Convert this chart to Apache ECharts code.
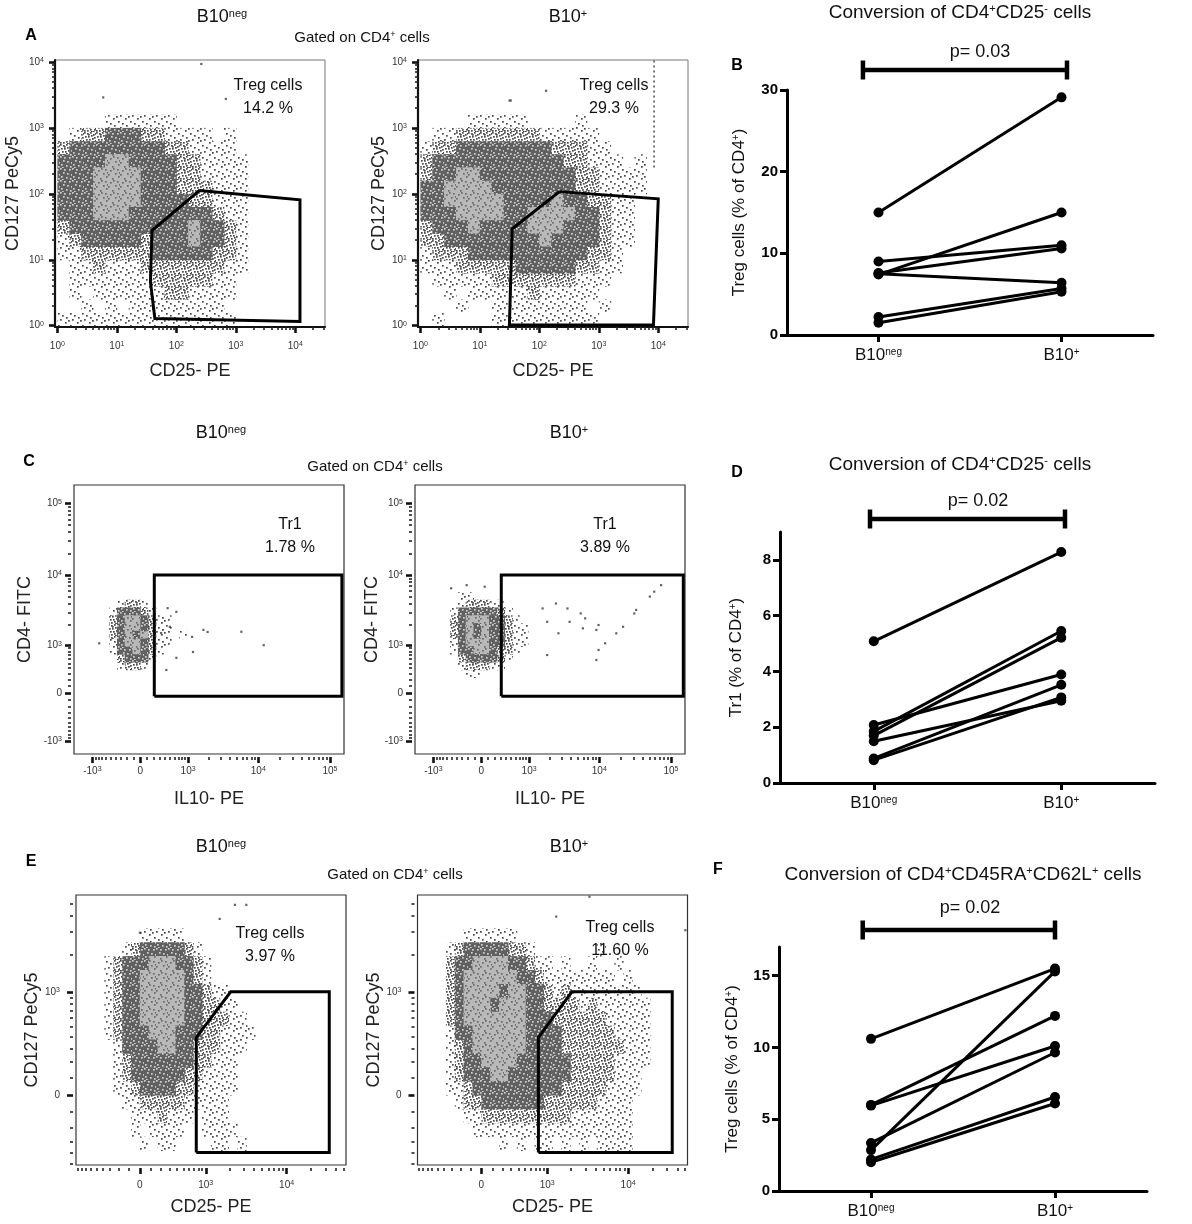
<!DOCTYPE html>
<html>
<head>
<meta charset="utf-8">
<title>B10 cells conversion</title>
<script src="https://cdn.jsdelivr.net/npm/echarts@6.0.0/dist/echarts.min.js"></script>
<style>
html,body{margin:0;padding:0;background:#ffffff;}
#chart{width:1192px;height:1224px;}
</style>
</head>
<body>
<div id="chart"></div>
<script>
// ================= DATA =================
const categories = ['B10neg', 'B10+'];

// Panel B: Treg cells (% of CD4+), conversion of CD4+CD25- cells, paired donors
const panelB_neg = [15.0, 7.4, 9.0, 7.6, 7.5, 2.2, 1.5];
const panelB_pos = [29.1, 15.0, 11.0, 10.6, 6.4, 5.7, 5.3];
// Panel D: Tr1 (% of CD4+)
const panelD_neg = [5.08, 2.08, 1.85, 1.70, 1.50, 0.88, 0.82];
const panelD_pos = [8.28, 3.89, 5.45, 5.21, 2.95, 3.52, 3.07];
// Panel F: Treg cells (% of CD4+), conversion of CD4+CD45RA+CD62L+ cells
const panelF_neg = [10.6, 6.0, 5.95, 2.85, 3.35, 2.2, 2.0];
const panelF_pos = [15.5, 12.2, 10.1, 15.3, 9.65, 6.55, 6.1];

const yTicksB = [0, 10, 20, 30];
const yTicksD = [0, 2, 4, 6, 8];
const yTicksF = [0, 5, 10, 15];
const pLabels = ['p= 0.03', 'p= 0.02', 'p= 0.02'];
// significance bar extent on the category scale (0 = B10neg, 1 = B10+)
const pBarB = [-0.085, 1.03];
const pBarD = [-0.02, 1.02];
const pBarF = [-0.045, 1.0];

// ---- Flow plots: density maps
// levels: 0 none, 1 sparse events, 2 moderate, 3 dense (dark), 4 densest (light core)
// Panel A (log10 display units), cells 0.2 decade, first column at 10^0, top row ends at 10^4
const cellsA = { x0: 0, dx: 0.2, yTop: 4.0, dy: 0.2 };
const densityA_neg = [
  "0000000000000000000000",
  "0000000000000000000000",
  "0000000000000000000000",
  "0000000000000000000000",
  "0000111111000000000000",
  "0122333221111010000000",
  "2333333332211110000000",
  "3333443333221111000000",
  "3334444333221111000000",
  "3334444333222111000000",
  "3334444333322111000000",
  "3334443333333211000000",
  "2333333333343321000000",
  "1233333233343321000000",
  "1122222233333221000000",
  "0112111222222211000000",
  "0111111122222110000000",
  "0101111112211110000000",
  "0010101111111100000000",
  "1111111111111110000000"
];
const densityA_pos = [
  "0000000000000000000000",
  "0000000000000000000000",
  "0000000000000000000000",
  "0000000000000000000000",
  "0000111110000100000000",
  "0112222222111110000000",
  "1223333333322211000000",
  "2333333333332211101000",
  "2334433333333221111000",
  "3344443333333221111000",
  "3344444333343322110000",
  "3334444334444332110000",
  "2333433334443332110000",
  "2233333333433332110000",
  "1222333333333322100000",
  "1112222233333221100000",
  "0111112222222111000000",
  "0010111112111110000000",
  "0001001111111101000000",
  "0100001111111110000000"
];
// gates (CD25, CD127 fluorescence)
const gateA_neg = [[243, 112], [12000, 81], [12000, 1.16], [43.6, 1.28], [36.7, 4.6], [39, 27.8]];
const gateA_pos = [[218, 108], [10000, 84], [8300, 1.02], [31.4, 1.02], [35, 29.5]];
const eventsA_neg = [[263, 9330], [5.9, 2900], [680, 2750]];
const eventsA_pos = [[31.6, 2600], [130, 3650], [33, 2600]];
const saturatedA_pos = [[8500, 250], [8500, 10700]];
const gateTextA = [['Treg cells', '14.2 %'], ['Treg cells', '29.3 %']];

// Panel C (biexponential display units asinh(v/450)), cells 0.25
const cellsC = { x0: -1.0, dx: 0.25, yTop: 3.25, dy: 0.25 };
const densityC_neg = [
  "000000000000",
  "012210000000",
  "133321000000",
  "234432110000",
  "234432110000",
  "234342110100",
  "134432110000",
  "133432100000",
  "023331000000",
  "012210000000",
  "000000000000"
];
const densityC_pos = [
  "011000000000",
  "012221100000",
  "133333210000",
  "234443321000",
  "234343321100",
  "234343321100",
  "134443321100",
  "133443221000",
  "023333210000",
  "012221100000",
  "001100000000"
];
const gateC_neg = [[210, -45], [210, 10000], [147000, 10000], [147000, -45]];
const gateC_pos = [[310, -45], [310, 10000], [149000, 10000], [149000, -45]];
const eventsC_neg = [[-782, 1069], [449, 3435], [648, 3047], [495, 1867], [1148, 1333], [1683, 1683],
  [1935, 1570], [5790, 1584], [11900, 1000], [1184, 783], [648, 625], [423, 365], [324, 1517]];
const eventsC_pos = [[-508, 6525], [-219, 7222], [50, 6870], [1585, 3400], [2462, 3996], [3578, 3400],
  [5500, 2893], [6345, 2462], [1845, 2200], [2670, 1503], [3840, 2200], [5890, 1773], [9100, 1683],
  [9760, 1980], [12060, 1069], [9760, 843], [9100, 573], [1845, 698], [17280, 1503], [21500, 1868],
  [30800, 2893], [32700, 3240], [50800, 4995], [58500, 5850], [72900, 7222]];
const gateTextC = [['Tr1', '1.78 %'], ['Tr1', '3.89 %']];

// Panel E (biexponential display units asinh(v/320)), cells 0.25
const cellsE = { x0: -1.0, dx: 0.25, yTop: 3.5, dy: 0.25 };
const densityE_neg = [
  "00000000000000000000",
  "00000000000000000000",
  "00001111100000000000",
  "00123333321000000000",
  "12333444332100000000",
  "12334444432100000000",
  "12334444433211000000",
  "12334444433221100000",
  "12334444433222110000",
  "12333444333221111000",
  "01333344332221110000",
  "01233333332211100000",
  "01233333322111100000",
  "01123333221111100000",
  "00112222211111000000",
  "00011121110111000000",
  "00010111100111100000",
  "00001011000011010000",
  "00000000000000000000"
];
const densityE_pos = [
  "000000000000000000000000",
  "000000000000000000000000",
  "001111110000000000000000",
  "123333322100000001000000",
  "233444433211010010010000",
  "234444443321111111101000",
  "234444344332121111111100",
  "234443444332222121111110",
  "234444444333222222111110",
  "133444444333322222211110",
  "123444444333322222221110",
  "123344443333332222211110",
  "123334433333332222211100",
  "112333333333322222111100",
  "012233333332222221111000",
  "001122222222221111111000",
  "000111111111111111111000",
  "000000101011010101111000",
  "000000000000000000000000"
];
const gateE_neg = [[752, -394], [752, 394], [2058, 1000], [33300, 1000], [33300, -394]];
const gateE_pos = [[767, -394], [767, 394], [2040, 1000], [34700, 1000], [34700, -394]];
const eventsE_neg = [[2323, 4900], [3205, 4900], [1500, 3800], [0, 2960]];
const eventsE_pos = [[3360, 5670], [1300, 3960], [50300, 3100]];
const gateTextE = [['Treg cells', '3.97 %'], ['Treg cells', '11.60 %']];

// ================= RENDERING =================
const FONT = '"Liberation Sans", Arial, Helvetica, sans-serif';

// dotted textures for the density levels (pure styling)
function makeTile(bg, dotColor, dots) {
  const size = 12;
  const c = document.createElement('canvas');
  c.width = size; c.height = size;
  const g = c.getContext('2d');
  if (bg) { g.fillStyle = bg; g.fillRect(0, 0, size, size); }
  g.fillStyle = dotColor;
  dots.forEach(d => g.fillRect(d[0], d[1], 1.7, 1.7));
  return { type: 'pattern', image: c, repeat: 'repeat' };
}
const LEVEL_FILLS = [
  null,
  makeTile(null, '#4a4a4a', [[2, 3], [8, 8], [10, 1], [5, 10], [0, 7], [6, 5]]),
  makeTile(null, '#4a4a4a', [[0, 0], [3, 1], [6, 0], [9, 2], [1, 4], [4, 4], [7, 3], [10, 5], [2, 7], [5, 7],
    [8, 6], [11, 8], [0, 10], [3, 10], [6, 9], [9, 11], [11, 1], [7, 11], [4, 2], [10, 9]]),
  makeTile('#606060', '#cfcfcf', [[3, 4], [9, 1], [6, 9], [0, 0], [10, 10], [1, 8], [7, 5], [4, 1], [11, 6], [2, 11]]),
  makeTile('#b8b8b8', '#6b6b6b', [[2, 2], [7, 5], [4, 10], [10, 8], [9, 1], [0, 6], [5, 0], [11, 4]])
];

const TF = {
  log: v => Math.log10(v),
  biexC: v => Math.asinh(v / 450),
  biexE: v => Math.asinh(v / 320)
};
function logMinors(d0, d1) {
  const o = [];
  for (let d = d0; d <= d1; d++) for (let k = 2; k <= 9; k++) o.push(k * Math.pow(10, d));
  return o;
}
function linMinors(n) {
  const o = [];
  for (let k = 1; k <= n; k++) { o.push(k * 100); o.push(-k * 100); }
  return o;
}
function supLabel(v) {
  if (v === 0) return '{b|0}';
  const e = Math.round(Math.log10(Math.abs(v)));
  return (v < 0 ? '{b|-10}' : '{b|10}') + '{s|' + e + '}';
}
function cellsFrom(spec, rows) {
  const out = [];
  rows.forEach((row, k) => {
    for (let c = 0; c < row.length; c++) {
      const lv = +row[c];
      if (lv > 0) {
        const x0 = spec.x0 + c * spec.dx;
        const yt = spec.yTop - k * spec.dy;
        out.push([x0, yt - spec.dy, x0 + spec.dx, yt, lv]);
      }
    }
  });
  return out;
}
function renderCell(params, api) {
  const a = api.coord([api.value(0), api.value(3)]);
  const b = api.coord([api.value(2), api.value(1)]);
  const cs = params.coordSys;
  const r = echarts.graphic.clipRectByRect(
    { x: a[0], y: a[1], width: b[0] - a[0] + 0.5, height: b[1] - a[1] + 0.5 },
    { x: cs.x, y: cs.y, width: cs.width, height: cs.height });
  if (!r) return null;
  return { type: 'rect', shape: r, style: { fill: LEVEL_FILLS[api.value(4)] } };
}

const grids = [], xAxes = [], yAxes = [], series = [], graphics = [];
const tickRich = {
  b: { fontSize: 10, fontFamily: FONT, color: '#333' },
  s: { fontSize: 7, fontFamily: FONT, color: '#333', verticalAlign: 'top' }
};

function buildFlow(p) {
  const T = TF[p.tf];
  const inR = r => v => v >= r[0] - 1e-9 && v <= r[1] + 1e-9;
  const gi = grids.length;
  grids.push({ left: p.box[0], top: p.box[1], width: p.box[2], height: p.box[3], show: true,
    borderColor: p.frameColor, borderWidth: p.frameWidth, backgroundColor: 'rgba(0,0,0,0)',
    containLabel: false, outerBoundsMode: 'none' });
  const labelFor = majors => val => {
    const m = majors.find(o => Math.abs(T(o) - val) < 1e-6);
    return m === undefined ? '' : supLabel(m);
  };
  const xMaj = p.xMajor.map(T).filter(inR(p.xr));
  const xMin = p.xMinor.map(T).filter(inR(p.xr));
  const yMaj = p.yMajor.map(T).filter(inR(p.yr));
  const yMin = p.yMinor.map(T).filter(inR(p.yr));
  const axisLine = { show: p.solid, onZero: false, lineStyle: { color: '#111', width: 2.2 } };
  const xi = xAxes.length;
  xAxes.push({ gridIndex: gi, type: 'value', min: p.xr[0], max: p.xr[1], position: 'bottom', offset: p.tickOffset,
    name: p.xName, nameLocation: 'middle', nameGap: p.xNameGap,
    nameTextStyle: { fontSize: 18, fontFamily: FONT, color: '#222' },
    axisLine: axisLine,
    axisTick: { show: true, length: 6, lineStyle: { color: '#111', width: 2.6 }, customValues: xMaj },
    axisLabel: { show: true, customValues: xMaj, margin: p.xLabelMargin, formatter: labelFor(p.xMajor), rich: tickRich },
    splitLine: { show: false } });
  xAxes.push({ gridIndex: gi, type: 'value', min: p.xr[0], max: p.xr[1], position: 'bottom', offset: p.tickOffset,
    axisLine: { show: false, onZero: false },
    axisTick: { show: true, length: 3, lineStyle: { color: '#222', width: 1.6 }, customValues: xMin },
    axisLabel: { show: false }, splitLine: { show: false } });
  const yi = yAxes.length;
  yAxes.push({ gridIndex: gi, type: 'value', min: p.yr[0], max: p.yr[1], position: 'left', offset: p.tickOffset,
    name: p.yName, nameLocation: 'middle', nameGap: p.yNameGap,
    nameTextStyle: { fontSize: 18, fontFamily: FONT, color: '#222' },
    axisLine: axisLine,
    axisTick: { show: true, length: 6, lineStyle: { color: '#111', width: 2.6 }, customValues: yMaj },
    axisLabel: { show: true, customValues: yMaj, margin: p.yLabelMargin, formatter: labelFor(p.yMajor), rich: tickRich },
    splitLine: { show: false } });
  yAxes.push({ gridIndex: gi, type: 'value', min: p.yr[0], max: p.yr[1], position: 'left', offset: p.tickOffset,
    axisLine: { show: false, onZero: false },
    axisTick: { show: true, length: 3, lineStyle: { color: '#222', width: 1.6 }, customValues: yMin },
    axisLabel: { show: false }, splitLine: { show: false } });

  series.push({ type: 'custom', xAxisIndex: xi, yAxisIndex: yi, data: cellsFrom(p.cells, p.density),
    renderItem: renderCell, encode: { x: [0, 2], y: [1, 3] }, z: 1, silent: true });
  series.push({ type: 'scatter', xAxisIndex: xi, yAxisIndex: yi, data: p.events.map(e => [T(e[0]), T(e[1])]),
    symbol: 'rect', symbolSize: 2.2, itemStyle: { color: '#3c3c3c' }, z: 2, silent: true });
  if (p.saturated) {
    series.push({ type: 'line', xAxisIndex: xi, yAxisIndex: yi, data: p.saturated.map(e => [T(e[0]), T(e[1])]),
      symbol: 'none', lineStyle: { color: '#555', width: 1.6, type: [2, 3] }, z: 2, silent: true, clip: true });
  }
  const g = p.gate.concat([p.gate[0]]).map(e => [T(e[0]), T(e[1])]);
  series.push({ type: 'line', xAxisIndex: xi, yAxisIndex: yi, data: g, symbol: 'none',
    lineStyle: { color: '#000', width: 3, join: 'miter' }, z: 3, silent: true, clip: false });
  graphics.push(txt(p.textPos[0], p.textPos[1], '{f16|' + p.gateText[0] + '}'));
  graphics.push(txt(p.textPos[0], p.textPos[1] + 23, '{f16|' + p.gateText[1] + '}'));
}

function buildPaired(p) {
  const gi = grids.length;
  grids.push({ left: p.box[0], top: p.box[1], width: p.box[2], height: p.box[3], containLabel: false, outerBoundsMode: 'none' });
  const xi = xAxes.length;
  xAxes.push({ gridIndex: gi, type: 'category', data: categories, boundaryGap: true,
    axisLine: { show: true, onZero: false, lineStyle: { color: '#000', width: 3 } },
    axisTick: { show: true, alignWithLabel: true, length: 7, lineStyle: { color: '#000', width: 3 } },
    axisLabel: { margin: 12, formatter: v => v === 'B10neg' ? '{m|B10}{s|neg}' : '{m|B10}{s|+}',
      rich: { m: { fontSize: 17, fontFamily: FONT, color: '#111' },
              s: { fontSize: 10, fontFamily: FONT, color: '#111', verticalAlign: 'top' } } },
    splitLine: { show: false } });
  const yi = yAxes.length;
  yAxes.push({ gridIndex: gi, type: 'value', min: 0, max: p.yMax,
    axisLine: { show: true, onZero: false, lineStyle: { color: '#000', width: 3 } },
    axisTick: { show: true, length: 7, lineStyle: { color: '#000', width: 3 }, customValues: p.yTicks },
    axisLabel: { customValues: p.yTicks, fontSize: 15, fontWeight: 'bold', fontFamily: FONT, color: '#000', margin: 9 },
    splitLine: { show: false },
    name: p.yName, nameLocation: 'middle', nameGap: p.yNameGap,
    nameTextStyle: { fontSize: 17, fontFamily: FONT, color: '#111',
      rich: { s: { fontSize: 10, fontFamily: FONT, color: '#111', verticalAlign: 'top' } } } });
  p.neg.forEach((v, i) => {
    series.push({ type: 'line', xAxisIndex: xi, yAxisIndex: yi, data: [v, p.pos[i]],
      symbol: 'circle', symbolSize: 10, lineStyle: { color: '#000', width: 3 }, itemStyle: { color: '#000' },
      z: 5, silent: true, clip: false });
  });
  // significance bar
  const gp = grids.length;
  grids.push({ left: p.box[0], top: p.pbarY - 20, width: p.box[2], height: 40, containLabel: false, outerBoundsMode: 'none' });
  const xp = xAxes.length;
  xAxes.push({ gridIndex: gp, type: 'value', min: -0.5, max: 1.5, show: false });
  const yp = yAxes.length;
  yAxes.push({ gridIndex: gp, type: 'value', min: 0, max: 1, show: false });
  series.push({ type: 'line', xAxisIndex: xp, yAxisIndex: yp, data: [[p.pbar[0], 0.5], [p.pbar[1], 0.5]],
    symbol: 'rect', symbolSize: [4.5, 19], lineStyle: { color: '#000', width: 4.5 }, itemStyle: { color: '#000' },
    z: 5, silent: true, clip: false });
  graphics.push(txt(p.pTextPos[0], p.pTextPos[1], '{t18|' + p.pText + '}'));
}

const textRich = {
  t15: { fontSize: 15, fontFamily: FONT, fill: '#111', color: '#111' },
  s15: { fontSize: 9, fontFamily: FONT, fill: '#111', color: '#111', verticalAlign: 'top' },
  t18: { fontSize: 18, fontFamily: FONT, fill: '#111', color: '#111' },
  s18: { fontSize: 11, fontFamily: FONT, fill: '#111', color: '#111', verticalAlign: 'top' },
  t19: { fontSize: 19, fontFamily: FONT, fill: '#111', color: '#111' },
  s19: { fontSize: 11, fontFamily: FONT, fill: '#111', color: '#111', verticalAlign: 'top' },
  f16: { fontSize: 16, fontFamily: FONT, fill: '#111', color: '#111' },
  L: { fontSize: 16, fontFamily: FONT, fontWeight: 'bold', fill: '#000', color: '#000' }
};
function txt(x, y, t) {
  return { type: 'text', x: x, y: y, z: 100, zlevel: 0, silent: true,
    style: { text: t, rich: textRich, align: 'center', verticalAlign: 'middle',
             textAlign: 'center', textVerticalAlign: 'middle', fontFamily: FONT, fontSize: 16, fill: '#111' } };
}

// ---- flow panels
const minorsLog = logMinors(0, 4);
const minorsC = linMinors(9).concat(logMinors(3, 4));
const minorsE = linMinors(9).concat(logMinors(3, 4));
const flowCommonA = { tf: 'log', xr: [-0.04, 4.5], yr: [-0.02, 4.03],
  xMajor: [1, 10, 100, 1000, 10000], yMajor: [1, 10, 100, 1000, 10000], xMinor: minorsLog, yMinor: minorsLog,
  xName: 'CD25- PE', yName: 'CD127 PeCy5', xNameGap: 35, solid: true, tickOffset: 0,
  xLabelMargin: 14, yLabelMargin: 11, frameColor: '#777', frameWidth: 1, cells: cellsA };
buildFlow(Object.assign({}, flowCommonA, { box: [55, 60, 270, 267], yNameGap: 33, density: densityA_neg, gate: gateA_neg,
  events: eventsA_neg, gateText: gateTextA[0], textPos: [268, 86] }));
buildFlow(Object.assign({}, flowCommonA, { box: [418, 60, 270, 267], yNameGap: 28, density: densityA_pos, gate: gateA_pos,
  events: eventsA_pos, saturated: saturatedA_pos, gateText: gateTextA[1], textPos: [614, 86] }));

const flowCommonC = { tf: 'biexC', xr: [-2.13, 6.55], yr: [-1.96, 6.69],
  xMajor: [-1000, 0, 1000, 10000, 100000], yMajor: [-1000, 0, 1000, 10000, 100000], xMinor: minorsC, yMinor: minorsC,
  xName: 'IL10- PE', yName: 'CD4- FITC', xNameGap: 33, solid: false, tickOffset: 3,
  xLabelMargin: 9, yLabelMargin: 9, frameColor: '#333', frameWidth: 1.2, cells: cellsC };
buildFlow(Object.assign({}, flowCommonC, { box: [74, 485, 270, 269], yNameGap: 37, density: densityC_neg,
  gate: gateC_neg, events: eventsC_neg, gateText: gateTextC[0], textPos: [290, 525] }));
buildFlow(Object.assign({}, flowCommonC, { box: [415, 485, 270, 269], yNameGap: 29, density: densityC_pos,
  gate: gateC_pos, events: eventsC_pos, gateText: gateTextC[1], textPos: [605, 525] }));

const flowCommonE = { tf: 'biexE', xr: [-1.8, 5.81], yr: [-1.26, 3.6],
  xMajor: [0, 1000, 10000], yMajor: [0, 1000], xMinor: minorsE, yMinor: minorsE,
  xName: 'CD25- PE', yName: 'CD127 PeCy5', xNameGap: 30, solid: false, tickOffset: 3,
  xLabelMargin: 12, yLabelMargin: 13, frameColor: '#333', frameWidth: 1.2, cells: cellsE };
buildFlow(Object.assign({}, flowCommonE, { box: [76, 895, 270, 270], yNameGap: 29, density: densityE_neg,
  gate: gateE_neg, events: eventsE_neg, gateText: gateTextE[0], textPos: [270, 934] }));
buildFlow(Object.assign({}, flowCommonE, { box: [417.5, 895, 270, 270], yNameGap: 23, density: densityE_pos,
  gate: gateE_pos, events: eventsE_pos, gateText: gateTextE[1], textPos: [620, 928] }));

// ---- paired panels
buildPaired({ box: [787, 90, 366, 245], neg: panelB_neg, pos: panelB_pos, yMax: 30, yTicks: yTicksB,
  yName: 'Treg cells (% of CD4{s|+})', yNameGap: 39, pbar: pBarB, pbarY: 70, pText: pLabels[0], pTextPos: [980, 52] });
buildPaired({ box: [780, 532, 375, 251], neg: panelD_neg, pos: panelD_pos, yMax: 9, yTicks: yTicksD,
  yName: 'Tr1 (% of CD4{s|+})', yNameGap: 35, pbar: pBarD, pbarY: 519, pText: pLabels[1], pTextPos: [978, 501] });
buildPaired({ box: [779, 947, 368, 244], neg: panelF_neg, pos: panelF_pos, yMax: 17, yTicks: yTicksF,
  yName: 'Treg cells (% of CD4{s|+})', yNameGap: 38, pbar: pBarF, pbarY: 930, pText: pLabels[2], pTextPos: [970, 908] });

// ---- headings
const headings = [
  [222, 17, '{t18|B10}{s18|neg}'], [568, 17, '{t18|B10}{s18|+}'], [31, 36, '{L|A}'],
  [362, 38, '{t15|Gated on CD4}{s15|+}{t15| cells}'],
  [221, 433, '{t18|B10}{s18|neg}'], [569, 433, '{t18|B10}{s18|+}'], [29, 462, '{L|C}'],
  [375, 467, '{t15|Gated on CD4}{s15|+}{t15| cells}'],
  [221, 847, '{t18|B10}{s18|neg}'], [569, 847, '{t18|B10}{s18|+}'], [31, 862, '{L|E}'],
  [395, 875, '{t15|Gated on CD4}{s15|+}{t15| cells}'],
  [960, 13, '{t19|Conversion of CD4}{s19|+}{t19|CD25}{s19|-}{t19| cells}'], [737, 66, '{L|B}'],
  [960, 465, '{t19|Conversion of CD4}{s19|+}{t19|CD25}{s19|-}{t19| cells}'], [737, 473, '{L|D}'],
  [963, 875, '{t19|Conversion of CD4}{s19|+}{t19|CD45RA}{s19|+}{t19|CD62L}{s19|+}{t19| cells}'], [718, 870, '{L|F}']
];
headings.forEach(h => graphics.push(txt(h[0], h[1], h[2])));

const chart = echarts.init(document.getElementById('chart'), null, { renderer: 'canvas', width: 1192, height: 1224 });
chart.setOption({
  animation: false,
  backgroundColor: '#ffffff',
  textStyle: { fontFamily: FONT },
  grid: grids,
  xAxis: xAxes,
  yAxis: yAxes,
  series: series,
  graphic: { elements: graphics }
});
</script>
</body>
</html>
